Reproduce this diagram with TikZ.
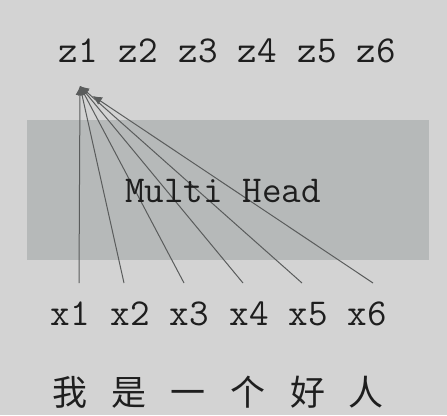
\documentclass[tikz,border=0pt]{standalone}
\usepackage{fontspec}
\newfontfamily\cjkfont{Noto Sans CJK SC}
\usetikzlibrary{arrows.meta}
\definecolor{bggray}{HTML}{D3D3D3}
\definecolor{boxgray}{HTML}{B6B9B9}
\definecolor{linegray}{HTML}{5A5C5C}
\definecolor{textgray}{HTML}{1E1E1E}
\begin{document}
\begin{tikzpicture}
		[x=1pt,y=-1pt,
		lbl/.style={font=\ttfamily\fontsize{38}{38}\selectfont,
			text=textgray, anchor=base, inner sep=0pt},
		word/.style={font=\cjkfont\fontsize{35}{35}\selectfont,
			text=textgray, anchor=base, inner sep=0pt},
		attn/.style={draw=linegray, line width=1pt,
			-{Latex[length=9pt,width=9pt]}}]
		\fill[bggray] (0,0) rectangle (447,415);
		\fill[boxgray] (27,120) rectangle (429,260);
		% outputs
		\node[lbl] (z1) at (78,62) {z1};
		\node[lbl] (z2) at (138,62) {z2};
		\node[lbl] (z3) at (198,62) {z3};
		\node[lbl] (z4) at (257,62) {z4};
		\node[lbl] (z5) at (317,62) {z5};
		\node[lbl] (z6) at (376,62) {z6};
		% inputs
		\node[lbl] (x1) at (70,325) {x1};
		\node[lbl] (x2) at (130,325) {x2};
		\node[lbl] (x3) at (189,325) {x3};
		\node[lbl] (x4) at (249,325) {x4};
		\node[lbl] (x5) at (308,325) {x5};
		\node[lbl] (x6) at (367,325) {x6};
		\node[word] (w1) at (70,405) {我};
		\node[word] (w2) at (129,405) {是};
		\node[word] (w3) at (188,405) {一};
		\node[word] (w4) at (248,405) {个};
		\node[word] (w5) at (308,405) {好};
		\node[word] (w6) at (366,405) {人};
		\coordinate (s1) at (79,283);
		\coordinate (s2) at (124,283);
		\coordinate (s3) at (184,283);
		\coordinate (s4) at (243,283);
		\coordinate (s5) at (302,283);
		\coordinate (s6) at (373,283);
		\coordinate (t1) at (80,86);
		\coordinate (t6) at (93,96);
		\draw[attn] (s1) -- (t1);
		\draw[attn] (s2) -- (t1);
		\draw[attn] (s3) -- (t1);
		\draw[attn] (s4) -- (t1);
		\draw[attn] (s5) -- (t1);
		\draw[attn] (s6) -- (t6);
		\node[lbl] (mh) at (223,202) {Multi Head};
	\end{tikzpicture}
\end{document}
